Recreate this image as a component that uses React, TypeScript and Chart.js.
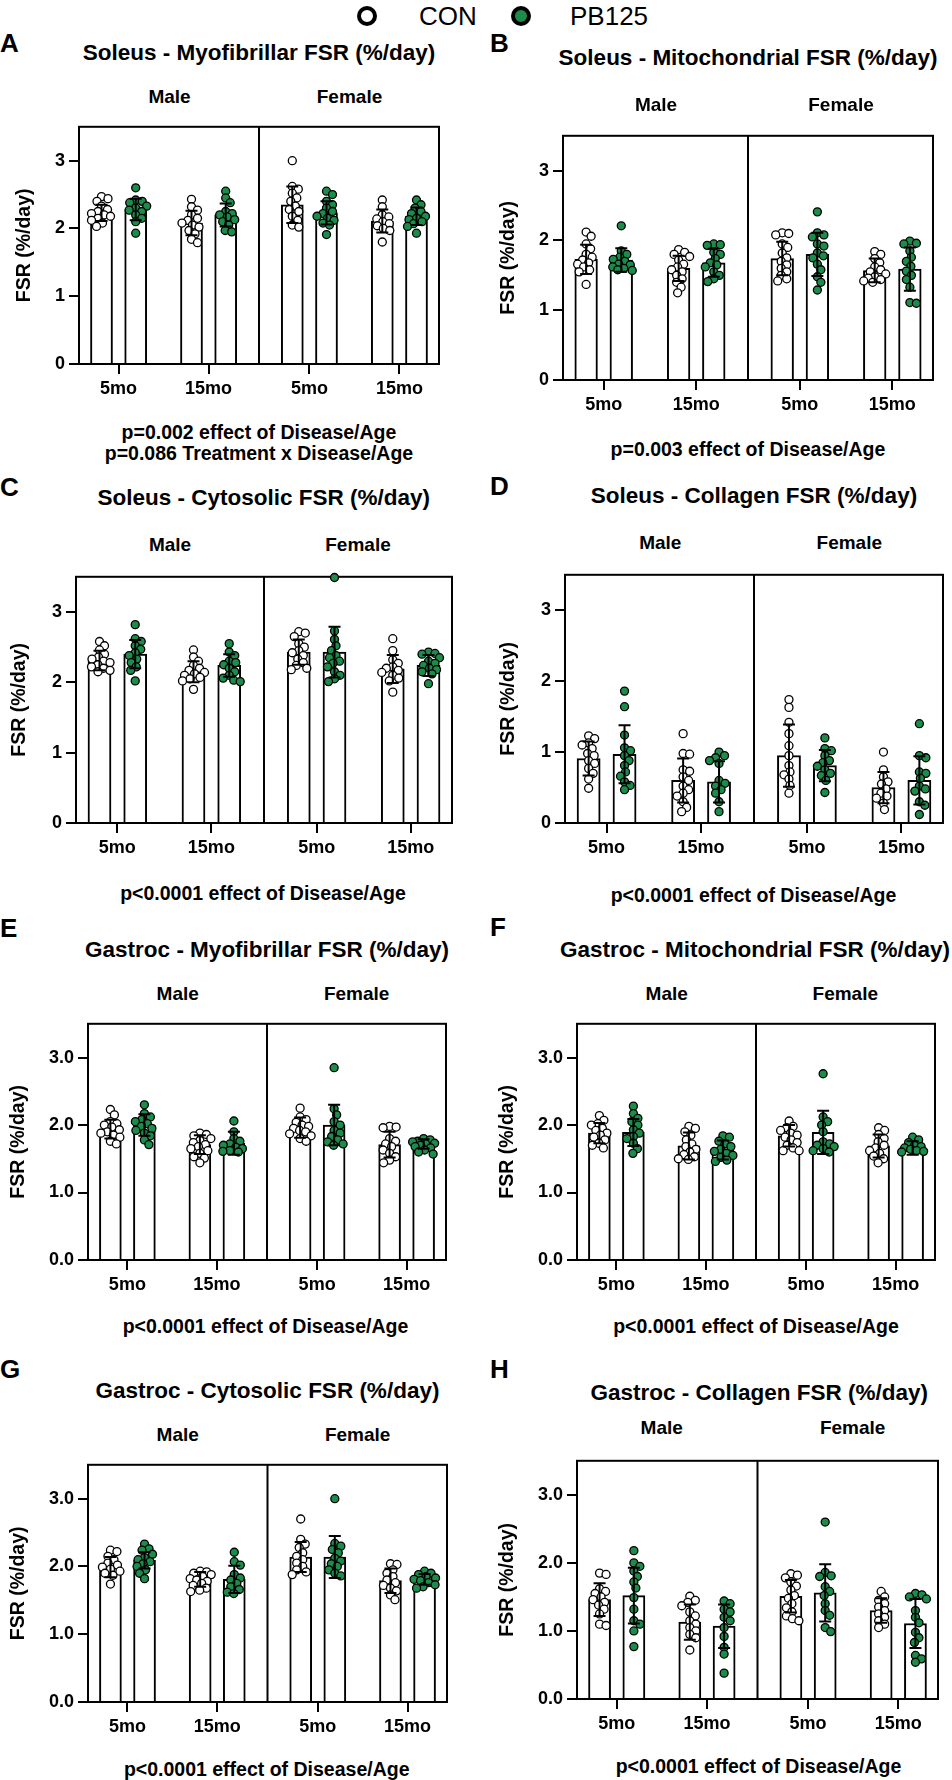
import React, { useEffect, useRef } from 'react';
import { Chart, registerables } from 'chart.js';

Chart.register(...registerables);

const FONT = '"Liberation Sans", Arial, Helvetica, sans-serif';
Chart.defaults.font.family = FONT;
Chart.defaults.color = '#000';

// ---------- shared labels ----------
const groupLabels = ['5mo', '15mo', '5mo', '15mo'];
const sexLabels = ['Male', 'Female'];
const seriesNames = ['CON', 'PB125'];
const yTickValues = [0, 1, 2, 3];
const GREEN = '#1c8c4a';

// ---------- Panel A: Soleus - Myofibrillar ----------
const aConPts = [
  [2.47, 2.44, 2.40, 2.33, 2.28, 2.25, 2.22, 2.20, 2.18, 2.15, 2.12, 2.08, 2.03],
  [2.43, 2.32, 2.27, 2.20, 2.15, 2.12, 2.08, 2.05, 2.02, 1.97, 1.92, 1.84, 1.79],
  [3.00, 2.62, 2.58, 2.52, 2.45, 2.40, 2.33, 2.28, 2.25, 2.18, 2.12, 2.05, 2.02],
  [2.42, 2.32, 2.20, 2.17, 2.14, 2.10, 2.07, 2.04, 2.00, 1.97, 1.80],
];
const aPbPts = [
  [2.60, 2.42, 2.40, 2.38, 2.33, 2.30, 2.27, 2.25, 2.20, 2.15, 2.10, 1.93],
  [2.55, 2.45, 2.38, 2.25, 2.22, 2.20, 2.17, 2.13, 2.10, 2.05, 1.97, 1.95],
  [2.55, 2.50, 2.40, 2.35, 2.30, 2.25, 2.22, 2.18, 2.15, 2.12, 2.08, 2.05, 1.91],
  [2.42, 2.35, 2.30, 2.25, 2.22, 2.18, 2.15, 2.13, 2.10, 2.07, 2.03, 1.93],
];
const aConMean = [2.23, 2.08, 2.35, 2.11];
const aConSd = [0.12, 0.18, 0.27, 0.17];
const aPbMean = [2.28, 2.20, 2.23, 2.18];
const aPbSd = [0.16, 0.17, 0.17, 0.13];

// ---------- Panel B: Soleus - Mitochondrial ----------
const bConPts = [
  [2.12, 2.06, 1.95, 1.88, 1.80, 1.76, 1.72, 1.68, 1.66, 1.62, 1.58, 1.55, 1.37],
  [1.87, 1.83, 1.80, 1.77, 1.72, 1.66, 1.62, 1.58, 1.55, 1.50, 1.45, 1.40, 1.33, 1.25],
  [2.11, 2.10, 2.08, 1.95, 1.90, 1.82, 1.75, 1.70, 1.65, 1.60, 1.55, 1.50, 1.45, 1.42],
  [1.84, 1.80, 1.74, 1.68, 1.62, 1.58, 1.55, 1.52, 1.48, 1.46, 1.44, 1.42, 1.40],
];
const bPbPts = [
  [2.21, 1.85, 1.80, 1.76, 1.73, 1.70, 1.66, 1.65, 1.62, 1.60, 1.58, 1.57],
  [1.95, 1.94, 1.93, 1.83, 1.80, 1.74, 1.68, 1.65, 1.62, 1.55, 1.50, 1.45, 1.41],
  [2.41, 2.11, 2.08, 2.05, 1.95, 1.92, 1.82, 1.78, 1.75, 1.66, 1.58, 1.48, 1.40, 1.29],
  [1.99, 1.96, 1.95, 1.85, 1.76, 1.70, 1.63, 1.56, 1.50, 1.44, 1.33, 1.11, 1.10],
];
const bConMean = [1.73, 1.60, 1.74, 1.57];
const bConSd = [0.21, 0.18, 0.24, 0.17];
const bPbMean = [1.72, 1.68, 1.80, 1.59];
const bPbSd = [0.17, 0.20, 0.31, 0.31];

// ---------- Panel C: Soleus - Cytosolic ----------
const cConPts = [
  [2.58, 2.52, 2.46, 2.40, 2.36, 2.33, 2.30, 2.28, 2.25, 2.22, 2.20, 2.17, 2.15],
  [2.46, 2.36, 2.30, 2.24, 2.20, 2.17, 2.14, 2.12, 2.10, 2.07, 2.05, 2.02, 1.90],
  [2.72, 2.70, 2.65, 2.55, 2.50, 2.45, 2.42, 2.38, 2.33, 2.28, 2.24, 2.20, 2.18],
  [2.62, 2.45, 2.32, 2.27, 2.22, 2.20, 2.17, 2.14, 2.10, 2.06, 2.02, 1.86],
];
const cPbPts = [
  [2.82, 2.62, 2.58, 2.52, 2.47, 2.42, 2.38, 2.33, 2.28, 2.22, 2.17, 2.02],
  [2.55, 2.43, 2.38, 2.30, 2.28, 2.25, 2.20, 2.15, 2.10, 2.06, 2.03, 2.01],
  [3.49, 2.73, 2.61, 2.52, 2.45, 2.38, 2.35, 2.30, 2.27, 2.22, 2.15, 2.10, 2.05, 2.01],
  [2.43, 2.41, 2.40, 2.35, 2.30, 2.27, 2.24, 2.20, 2.18, 2.15, 2.12, 1.98],
];
const cConMean = [2.31, 2.15, 2.43, 2.19];
const cConSd = [0.14, 0.15, 0.18, 0.20];
const cPbMean = [2.40, 2.24, 2.43, 2.24];
const cPbSd = [0.20, 0.16, 0.36, 0.15];

// ---------- Panel D: Soleus - Collagen ----------
const dConPts = [
  [1.23, 1.19, 1.13, 1.10, 1.05, 0.98, 0.95, 0.88, 0.84, 0.77, 0.70, 0.62, 0.49],
  [1.26, 0.98, 0.97, 0.75, 0.73, 0.65, 0.60, 0.52, 0.47, 0.42, 0.38, 0.30, 0.22, 0.16],
  [1.74, 1.63, 1.42, 1.26, 1.09, 0.95, 0.81, 0.72, 0.68, 0.62, 0.53, 0.42],
  [1.00, 0.75, 0.65, 0.58, 0.55, 0.48, 0.42, 0.38, 0.35, 0.28, 0.19],
];
const dPbPts = [
  [1.86, 1.64, 1.24, 1.06, 1.02, 0.95, 0.88, 0.81, 0.72, 0.66, 0.58, 0.53, 0.47],
  [1.00, 0.95, 0.92, 0.88, 0.84, 0.60, 0.56, 0.52, 0.47, 0.42, 0.30, 0.16],
  [1.20, 1.05, 1.02, 0.95, 0.88, 0.85, 0.80, 0.75, 0.70, 0.67, 0.60, 0.43],
  [1.40, 0.95, 0.92, 0.72, 0.70, 0.63, 0.52, 0.48, 0.45, 0.30, 0.25, 0.12],
];
const dConMean = [0.91, 0.60, 0.95, 0.50];
const dConSd = [0.24, 0.31, 0.44, 0.22];
const dPbMean = [0.97, 0.58, 0.81, 0.60];
const dPbSd = [0.41, 0.29, 0.22, 0.34];

// ---------- Panel E: Gastroc - Myofibrillar ----------
const eConPts = [
  [2.23, 2.15, 2.05, 2.02, 2.00, 1.97, 1.93, 1.90, 1.88, 1.85, 1.82, 1.76, 1.72],
  [1.88, 1.86, 1.84, 1.80, 1.77, 1.74, 1.71, 1.68, 1.65, 1.62, 1.58, 1.53, 1.51, 1.44],
  [2.25, 2.12, 2.08, 2.04, 2.00, 1.98, 1.95, 1.92, 1.90, 1.87, 1.84, 1.80, 1.76],
  [1.98, 1.97, 1.96, 1.80, 1.76, 1.72, 1.68, 1.63, 1.58, 1.53, 1.48, 1.44],
];
const ePbPts = [
  [2.30, 2.17, 2.12, 2.08, 2.05, 2.02, 1.98, 1.95, 1.92, 1.88, 1.84, 1.78, 1.71],
  [2.06, 1.90, 1.80, 1.76, 1.72, 1.70, 1.67, 1.65, 1.62, 1.61, 1.60],
  [2.85, 2.24, 2.15, 2.05, 2.00, 1.92, 1.88, 1.83, 1.78, 1.75, 1.72, 1.70],
  [1.80, 1.78, 1.76, 1.75, 1.73, 1.72, 1.70, 1.68, 1.66, 1.63, 1.60, 1.57],
];
const eConMean = [1.94, 1.71, 1.96, 1.71];
const eConSd = [0.14, 0.14, 0.15, 0.19];
const ePbMean = [2.00, 1.73, 2.00, 1.72];
const ePbSd = [0.16, 0.17, 0.30, 0.07];

// ---------- Panel F: Gastroc - Mitochondrial ----------
const fConPts = [
  [2.14, 2.07, 2.02, 2.00, 1.95, 1.92, 1.88, 1.85, 1.82, 1.78, 1.73, 1.70, 1.66],
  [1.98, 1.95, 1.90, 1.85, 1.78, 1.72, 1.68, 1.64, 1.60, 1.56, 1.53, 1.50, 1.49],
  [2.06, 1.98, 1.96, 1.92, 1.88, 1.85, 1.82, 1.78, 1.74, 1.70, 1.66, 1.62, 1.62],
  [1.96, 1.92, 1.86, 1.80, 1.75, 1.70, 1.66, 1.62, 1.58, 1.54, 1.50, 1.44],
];
const fPbPts = [
  [2.28, 2.17, 2.10, 2.05, 2.00, 1.93, 1.88, 1.83, 1.80, 1.73, 1.65, 1.58],
  [1.84, 1.82, 1.76, 1.72, 1.68, 1.64, 1.61, 1.58, 1.55, 1.52, 1.48, 1.46],
  [2.76, 2.12, 2.05, 2.00, 1.90, 1.75, 1.72, 1.70, 1.68, 1.65, 1.62, 1.60],
  [1.82, 1.78, 1.74, 1.70, 1.68, 1.66, 1.64, 1.62, 1.61, 1.60],
];
const fConMean = [1.88, 1.69, 1.84, 1.69];
const fConSd = [0.15, 0.20, 0.16, 0.17];
const fPbMean = [1.89, 1.63, 1.89, 1.66];
const fPbSd = [0.20, 0.14, 0.32, 0.10];

// ---------- Panel G: Gastroc - Cytosolic ----------
const gConPts = [
  [2.24, 2.22, 2.15, 2.10, 2.05, 2.02, 1.99, 1.96, 1.93, 1.90, 1.87, 1.74],
  [1.93, 1.92, 1.90, 1.88, 1.85, 1.82, 1.80, 1.78, 1.75, 1.72, 1.68, 1.65, 1.63],
  [2.70, 2.40, 2.33, 2.28, 2.20, 2.15, 2.10, 2.05, 2.00, 1.95, 1.92, 1.88],
  [2.04, 2.03, 1.95, 1.90, 1.85, 1.80, 1.76, 1.72, 1.68, 1.64, 1.58, 1.51],
];
const gPbPts = [
  [2.33, 2.26, 2.24, 2.18, 2.13, 2.10, 2.07, 2.04, 2.00, 1.95, 1.90, 1.82],
  [2.21, 2.07, 2.02, 1.88, 1.83, 1.80, 1.75, 1.70, 1.66, 1.62, 1.60],
  [3.00, 2.34, 2.30, 2.25, 2.20, 2.12, 2.08, 2.04, 2.00, 1.95, 1.90, 1.86],
  [1.93, 1.90, 1.88, 1.85, 1.83, 1.81, 1.79, 1.76, 1.73, 1.70, 1.68],
];
const gConMean = [1.99, 1.81, 2.14, 1.79];
const gConSd = [0.15, 0.11, 0.22, 0.18];
const gPbMean = [2.09, 1.81, 2.14, 1.81];
const gPbSd = [0.12, 0.20, 0.31, 0.08];

// ---------- Panel H: Gastroc - Collagen ----------
const hConPts = [
  [1.85, 1.83, 1.62, 1.58, 1.55, 1.50, 1.46, 1.42, 1.38, 1.32, 1.25, 1.10, 1.08],
  [1.51, 1.45, 1.42, 1.37, 1.28, 1.22, 1.15, 1.10, 1.05, 1.00, 0.95, 0.90, 0.72],
  [1.84, 1.82, 1.78, 1.72, 1.66, 1.60, 1.52, 1.48, 1.40, 1.34, 1.28, 1.22, 1.18, 1.15],
  [1.58, 1.50, 1.45, 1.40, 1.35, 1.30, 1.25, 1.20, 1.15, 1.10, 1.05],
];
const hPbPts = [
  [2.18, 2.00, 1.95, 1.88, 1.80, 1.72, 1.63, 1.49, 1.32, 1.15, 1.10, 1.00, 0.77],
  [1.44, 1.40, 1.32, 1.28, 1.20, 1.15, 1.05, 0.92, 0.76, 0.66, 0.38],
  [2.60, 1.86, 1.81, 1.80, 1.65, 1.58, 1.52, 1.40, 1.30, 1.23, 1.05, 0.99],
  [1.55, 1.53, 1.50, 1.47, 1.30, 1.20, 1.12, 0.98, 0.90, 0.83, 0.64, 0.59, 0.54],
];
const hConMean = [1.46, 1.13, 1.51, 1.30];
const hConSd = [0.24, 0.26, 0.24, 0.18];
const hPbMean = [1.52, 1.07, 1.56, 1.11];
const hPbSd = [0.41, 0.32, 0.42, 0.36];

// ---------- layout constants (x-scale units) ----------
const X_MAX = 4;
const Y_MAX = 3.5;
const GROUP_POS = [0.44, 1.44, 2.56, 3.56];
const DIVIDER = 2;
const BAR_OFFSET = 0.19;
const BAR_W = 0.245;
const PAD_T = 12;
const PAD_R = 8;
const X_AXIS_H = 42;

type Frame = { l: number; r: number; t: number; b: number };
type Spec = {
  letter: string; title: string; pText: string[];
  con: number[][]; pb: number[][];
  conMean: number[]; conSd: number[]; pbMean: number[]; pbSd: number[];
  frame: Frame; canvasLeft: number; yTitleX: number; decimals: number;
  letterY: number; titleX: number; titleY: number; sexY: number; sexX: number[];
  pX: number; pY: number[];
};

const PANELS: Spec[] = [
  { letter: 'A', title: 'Soleus - Myofibrillar FSR (%/day)', pText: ['p=0.002 effect of Disease/Age', 'p=0.086 Treatment x Disease/Age'],
    con: aConPts, pb: aPbPts, conMean: aConMean, conSd: aConSd, pbMean: aPbMean, pbSd: aPbSd,
    frame: { l: 79, r: 439, t: 124, b: 364 }, canvasLeft: 0, yTitleX: 25, decimals: 0,
    letterY: 42.5, titleX: 259, titleY: 53, sexY: 96.7, sexX: [169.5, 349.5], pX: 259, pY: [432.5, 454] },
  { letter: 'B', title: 'Soleus - Mitochondrial FSR (%/day)', pText: ['p=0.003 effect of Disease/Age'],
    con: bConPts, pb: bPbPts, conMean: bConMean, conSd: bConSd, pbMean: bPbMean, pbSd: bPbSd,
    frame: { l: 563, r: 933, t: 133, b: 380 }, canvasLeft: 476, yTitleX: 508.3, decimals: 0,
    letterY: 43.3, titleX: 748, titleY: 58.7, sexY: 104.2, sexX: [656, 841], pX: 748, pY: [450] },
  { letter: 'C', title: 'Soleus - Cytosolic FSR (%/day)', pText: ['p<0.0001 effect of Disease/Age'],
    con: cConPts, pb: cPbPts, conMean: cConMean, conSd: cConSd, pbMean: cPbMean, pbSd: cPbSd,
    frame: { l: 76, r: 452, t: 574, b: 823 }, canvasLeft: 0, yTitleX: 19.2, decimals: 0,
    letterY: 486.7, titleX: 263.7, titleY: 498.3, sexY: 544.5, sexX: [170, 358], pX: 263, pY: [893.3] },
  { letter: 'D', title: 'Soleus - Collagen FSR (%/day)', pText: ['p<0.0001 effect of Disease/Age'],
    con: dConPts, pb: dPbPts, conMean: dConMean, conSd: dConSd, pbMean: dPbMean, pbSd: dPbSd,
    frame: { l: 565, r: 943, t: 572, b: 823 }, canvasLeft: 476, yTitleX: 508.8, decimals: 0,
    letterY: 485.8, titleX: 754, titleY: 496.3, sexY: 542.5, sexX: [660.3, 849.3], pX: 753.5, pY: [895.5] },
  { letter: 'E', title: 'Gastroc - Myofibrillar FSR (%/day)', pText: ['p<0.0001 effect of Disease/Age'],
    con: eConPts, pb: ePbPts, conMean: eConMean, conSd: eConSd, pbMean: ePbMean, pbSd: ePbSd,
    frame: { l: 88, r: 446, t: 1021, b: 1260 }, canvasLeft: 0, yTitleX: 18.3, decimals: 1,
    letterY: 927.5, titleX: 267, titleY: 950, sexY: 993, sexX: [177.7, 356.7], pX: 265.5, pY: [1326.7] },
  { letter: 'F', title: 'Gastroc - Mitochondrial FSR (%/day)', pText: ['p<0.0001 effect of Disease/Age'],
    con: fConPts, pb: fPbPts, conMean: fConMean, conSd: fConSd, pbMean: fPbMean, pbSd: fPbSd,
    frame: { l: 577, r: 935, t: 1021, b: 1260 }, canvasLeft: 476, yTitleX: 508, decimals: 1,
    letterY: 926.7, titleX: 755, titleY: 950, sexY: 993, sexX: [666.7, 845.3], pX: 756, pY: [1326.7] },
  { letter: 'G', title: 'Gastroc - Cytosolic FSR (%/day)', pText: ['p<0.0001 effect of Disease/Age'],
    con: gConPts, pb: gPbPts, conMean: gConMean, conSd: gConSd, pbMean: gPbMean, pbSd: gPbSd,
    frame: { l: 88, r: 447, t: 1462, b: 1702 }, canvasLeft: 0, yTitleX: 18.7, decimals: 1,
    letterY: 1369, titleX: 267.5, titleY: 1391, sexY: 1434.2, sexX: [177.7, 357.7], pX: 266.7, pY: [1769.7] },
  { letter: 'H', title: 'Gastroc - Collagen FSR (%/day)', pText: ['p<0.0001 effect of Disease/Age'],
    con: hConPts, pb: hPbPts, conMean: hConMean, conSd: hConSd, pbMean: hPbMean, pbSd: hPbSd,
    frame: { l: 577, r: 938, t: 1458, b: 1699 }, canvasLeft: 476, yTitleX: 508, decimals: 1,
    letterY: 1369, titleX: 759.3, titleY: 1393.7, sexY: 1427.5, sexX: [661.7, 852.7], pX: 758.5, pY: [1766.7] },
];

// deterministic beeswarm offsets (pixels) so overlapping dots spread sideways, kept within the bar width
function swarm(vals: number[], pxPerY: number, minDist = 6.5, maxOff = 11): number[] {
  const order = vals.map((_, i) => i).sort((a, b) => vals[b] - vals[a]);
  const placed: { x: number; y: number }[] = [];
  const out = new Array(vals.length).fill(0);
  const cands: number[] = [0];
  for (let k = 1; k * 0.5 <= maxOff; k++) {
    cands.push(k * 0.5, -k * 0.5);
  }
  for (const i of order) {
    const yPx = vals[i] * pxPerY;
    let best = 0;
    let bestD = -1;
    for (const cand of cands) {
      let d = Infinity;
      for (const p of placed) d = Math.min(d, Math.hypot(p.x - cand, p.y - yPx));
      if (d >= minDist) { best = cand; bestD = d; break; }
      if (d > bestD) { bestD = d; best = cand; }
    }
    placed.push({ x: best, y: yPx });
    out[i] = best;
  }
  return out;
}

function Label(props: { x: number; y: number; size: number; text: string; align?: 'center' | 'left'; weight?: number }) {
  const { x, y, size, text, align = 'center', weight = 700 } = props;
  const style: React.CSSProperties = {
    position: 'absolute', top: y - size / 2, height: size, lineHeight: `${size}px`,
    fontSize: size, fontWeight: weight, whiteSpace: 'nowrap', color: '#000', fontFamily: FONT,
  };
  if (align === 'center') {
    style.left = x - 350;
    style.width = 700;
    style.textAlign = 'center';
  } else {
    style.left = x;
  }
  return <div style={style}>{text}</div>;
}

function Panel({ spec }: { spec: Spec }) {
  const ref = useRef<HTMLCanvasElement>(null);
  const f = spec.frame;
  const yAxisW = f.l - spec.canvasLeft;
  const width = Math.round(f.r - spec.canvasLeft + PAD_R);
  const height = Math.round(f.b - f.t + PAD_T + X_AXIS_H);

  useEffect(() => {
    const canvas = ref.current;
    if (!canvas) return;
    const frameW = f.r - f.l;
    const frameH = f.b - f.t;
    const pxX = frameW / X_MAX;
    const pxY = frameH / Y_MAX;
    const sides = [-1, 1];

    const barData: { x: number; y: number }[] = [];
    [spec.conMean, spec.pbMean].forEach((means, s) =>
      means.forEach((m, i) => barData.push({ x: GROUP_POS[i] + sides[s] * BAR_OFFSET, y: m }))
    );

    const pointSets = [spec.con, spec.pb].map((groups, s) => {
      const pts: { x: number; y: number }[] = [];
      groups.forEach((vals, i) => {
        const offs = swarm(vals, pxY);
        vals.forEach((v, k) => pts.push({ x: GROUP_POS[i] + sides[s] * BAR_OFFSET + offs[k] / pxX, y: v }));
      });
      return pts;
    });

    const framePlugin = {
      id: 'frameBox',
      afterDatasetDraw(chart: any, args: any) {
        if (args.index !== 0) return;
        const { ctx, chartArea: a, scales } = chart;
        ctx.save();
        ctx.strokeStyle = '#000';
        ctx.lineWidth = 2;
        ctx.strokeRect(a.left, a.top, a.right - a.left, a.bottom - a.top);
        const dx = scales.x.getPixelForValue(DIVIDER);
        ctx.beginPath();
        ctx.moveTo(dx, a.top);
        ctx.lineTo(dx, a.bottom);
        ctx.stroke();
        ctx.restore();
      },
    };

    const errorPlugin = {
      id: 'errorBars',
      afterDatasetsDraw(chart: any) {
        const { ctx, scales } = chart;
        const cap = 12;
        ctx.save();
        ctx.strokeStyle = '#000';
        ctx.lineWidth = 2;
        [[spec.conMean, spec.conSd], [spec.pbMean, spec.pbSd]].forEach(([means, sds], s) => {
          means.forEach((m, i) => {
            const cx = scales.x.getPixelForValue(GROUP_POS[i] + sides[s] * BAR_OFFSET);
            const top = scales.y.getPixelForValue(m + sds[i]);
            const bot = scales.y.getPixelForValue(Math.max(0, m - sds[i]));
            ctx.beginPath();
            ctx.moveTo(cx, top);
            ctx.lineTo(cx, bot);
            ctx.moveTo(cx - cap / 2, top);
            ctx.lineTo(cx + cap / 2, top);
            ctx.moveTo(cx - cap / 2, bot);
            ctx.lineTo(cx + cap / 2, bot);
            ctx.stroke();
          });
        });
        ctx.restore();
      },
    };

    const titleFont = 19.5;
    const titlePad = spec.yTitleX - spec.canvasLeft - (titleFont * 1.2) / 2;

    const chart = new Chart(canvas, {
      type: 'bar',
      data: {
        datasets: [
          {
            type: 'bar', label: 'Mean', data: barData as any,
            backgroundColor: '#ffffff', borderColor: '#000000', borderWidth: 2,
            barThickness: BAR_W * pxX, order: 3,
          } as any,
          {
            type: 'scatter', label: seriesNames[0], data: pointSets[0] as any,
            pointRadius: 4, pointBorderWidth: 1.3, pointBackgroundColor: '#ffffff', pointBorderColor: '#000000',
            clip: false, order: 2,
          } as any,
          {
            type: 'scatter', label: seriesNames[1], data: pointSets[1] as any,
            pointRadius: 4, pointBorderWidth: 1.3, pointBackgroundColor: GREEN, pointBorderColor: '#000000',
            clip: false, order: 1,
          } as any,
        ],
      },
      options: {
        responsive: false,
        animation: false,
        events: [],
        layout: { padding: { top: PAD_T, right: PAD_R, left: 0, bottom: 0 } },
        plugins: { legend: { display: false }, tooltip: { enabled: false }, title: { display: false } },
        scales: {
          x: {
            type: 'linear', min: 0, max: X_MAX, offset: false,
            afterBuildTicks: (s: any) => { s.ticks = GROUP_POS.map((v) => ({ value: v })); },
            afterFit: (s: any) => { s.height = X_AXIS_H; },
            ticks: {
              autoSkip: false, maxRotation: 0, minRotation: 0, padding: 4, color: '#000',
              font: { size: 18, weight: 'bold' },
              callback: (_v: any, i: number) => groupLabels[i],
            },
            grid: { display: true, drawOnChartArea: false, drawTicks: true, tickLength: 10, color: '#000', lineWidth: 2, offset: false },
            border: { display: false },
          },
          y: {
            type: 'linear', min: 0, max: Y_MAX,
            afterBuildTicks: (s: any) => { s.ticks = yTickValues.map((v) => ({ value: v })); },
            afterFit: (s: any) => { s.width = yAxisW; },
            ticks: {
              padding: 4, color: '#000', font: { size: 18, weight: 'bold' },
              callback: (v: any) => Number(v).toFixed(spec.decimals),
            },
            grid: { display: true, drawOnChartArea: false, drawTicks: true, tickLength: 10, color: '#000', lineWidth: 2 },
            border: { display: false },
            title: {
              display: true, text: 'FSR (%/day)', color: '#000',
              font: { size: titleFont, weight: 'bold', lineHeight: 1.2 },
              padding: { top: titlePad, bottom: 0 },
            },
          },
        },
      } as any,
      plugins: [framePlugin, errorPlugin],
    });
    return () => chart.destroy();
  }, []);

  const leftCol = spec.canvasLeft === 0;
  return (
    <>
      <canvas
        ref={ref}
        width={width}
        height={height}
        style={{ position: 'absolute', left: spec.canvasLeft, top: Math.round(f.t - PAD_T), width, height }}
      />
      <Label x={leftCol ? 0 : 490} y={spec.letterY} size={26} text={spec.letter} align="left" />
      <Label x={spec.titleX} y={spec.titleY} size={22.5} text={spec.title} />
      <Label x={spec.sexX[0]} y={spec.sexY} size={19} text={sexLabels[0]} />
      <Label x={spec.sexX[1]} y={spec.sexY} size={19} text={sexLabels[1]} />
      {spec.pText.map((t, i) => (
        <Label key={i} x={spec.pX} y={spec.pY[i]} size={19.5} text={t} />
      ))}
    </>
  );
}

export default function App() {
  useEffect(() => {
    document.body.style.margin = '0';
    document.documentElement.style.overflow = 'hidden';
  }, []);
  const dot = (cx: number, fill: string): React.CSSProperties => ({
    position: 'absolute', left: cx - 10, top: 15.5 - 10, width: 20, height: 20,
    boxSizing: 'border-box', border: '4.5px solid #000', borderRadius: '50%', background: fill,
  });
  return (
    <div style={{ position: 'absolute', left: 0, top: 0, width: 952, height: 1780, background: '#fff', overflow: 'hidden', fontFamily: FONT }}>
      <div style={dot(367, '#ffffff')} />
      <Label x={419} y={16} size={26} text={seriesNames[0]} align="left" weight={400} />
      <div style={dot(521, GREEN)} />
      <Label x={570} y={16} size={26} text={seriesNames[1]} align="left" weight={400} />
      {PANELS.map((p) => (
        <Panel key={p.letter} spec={p} />
      ))}
    </div>
  );
}
